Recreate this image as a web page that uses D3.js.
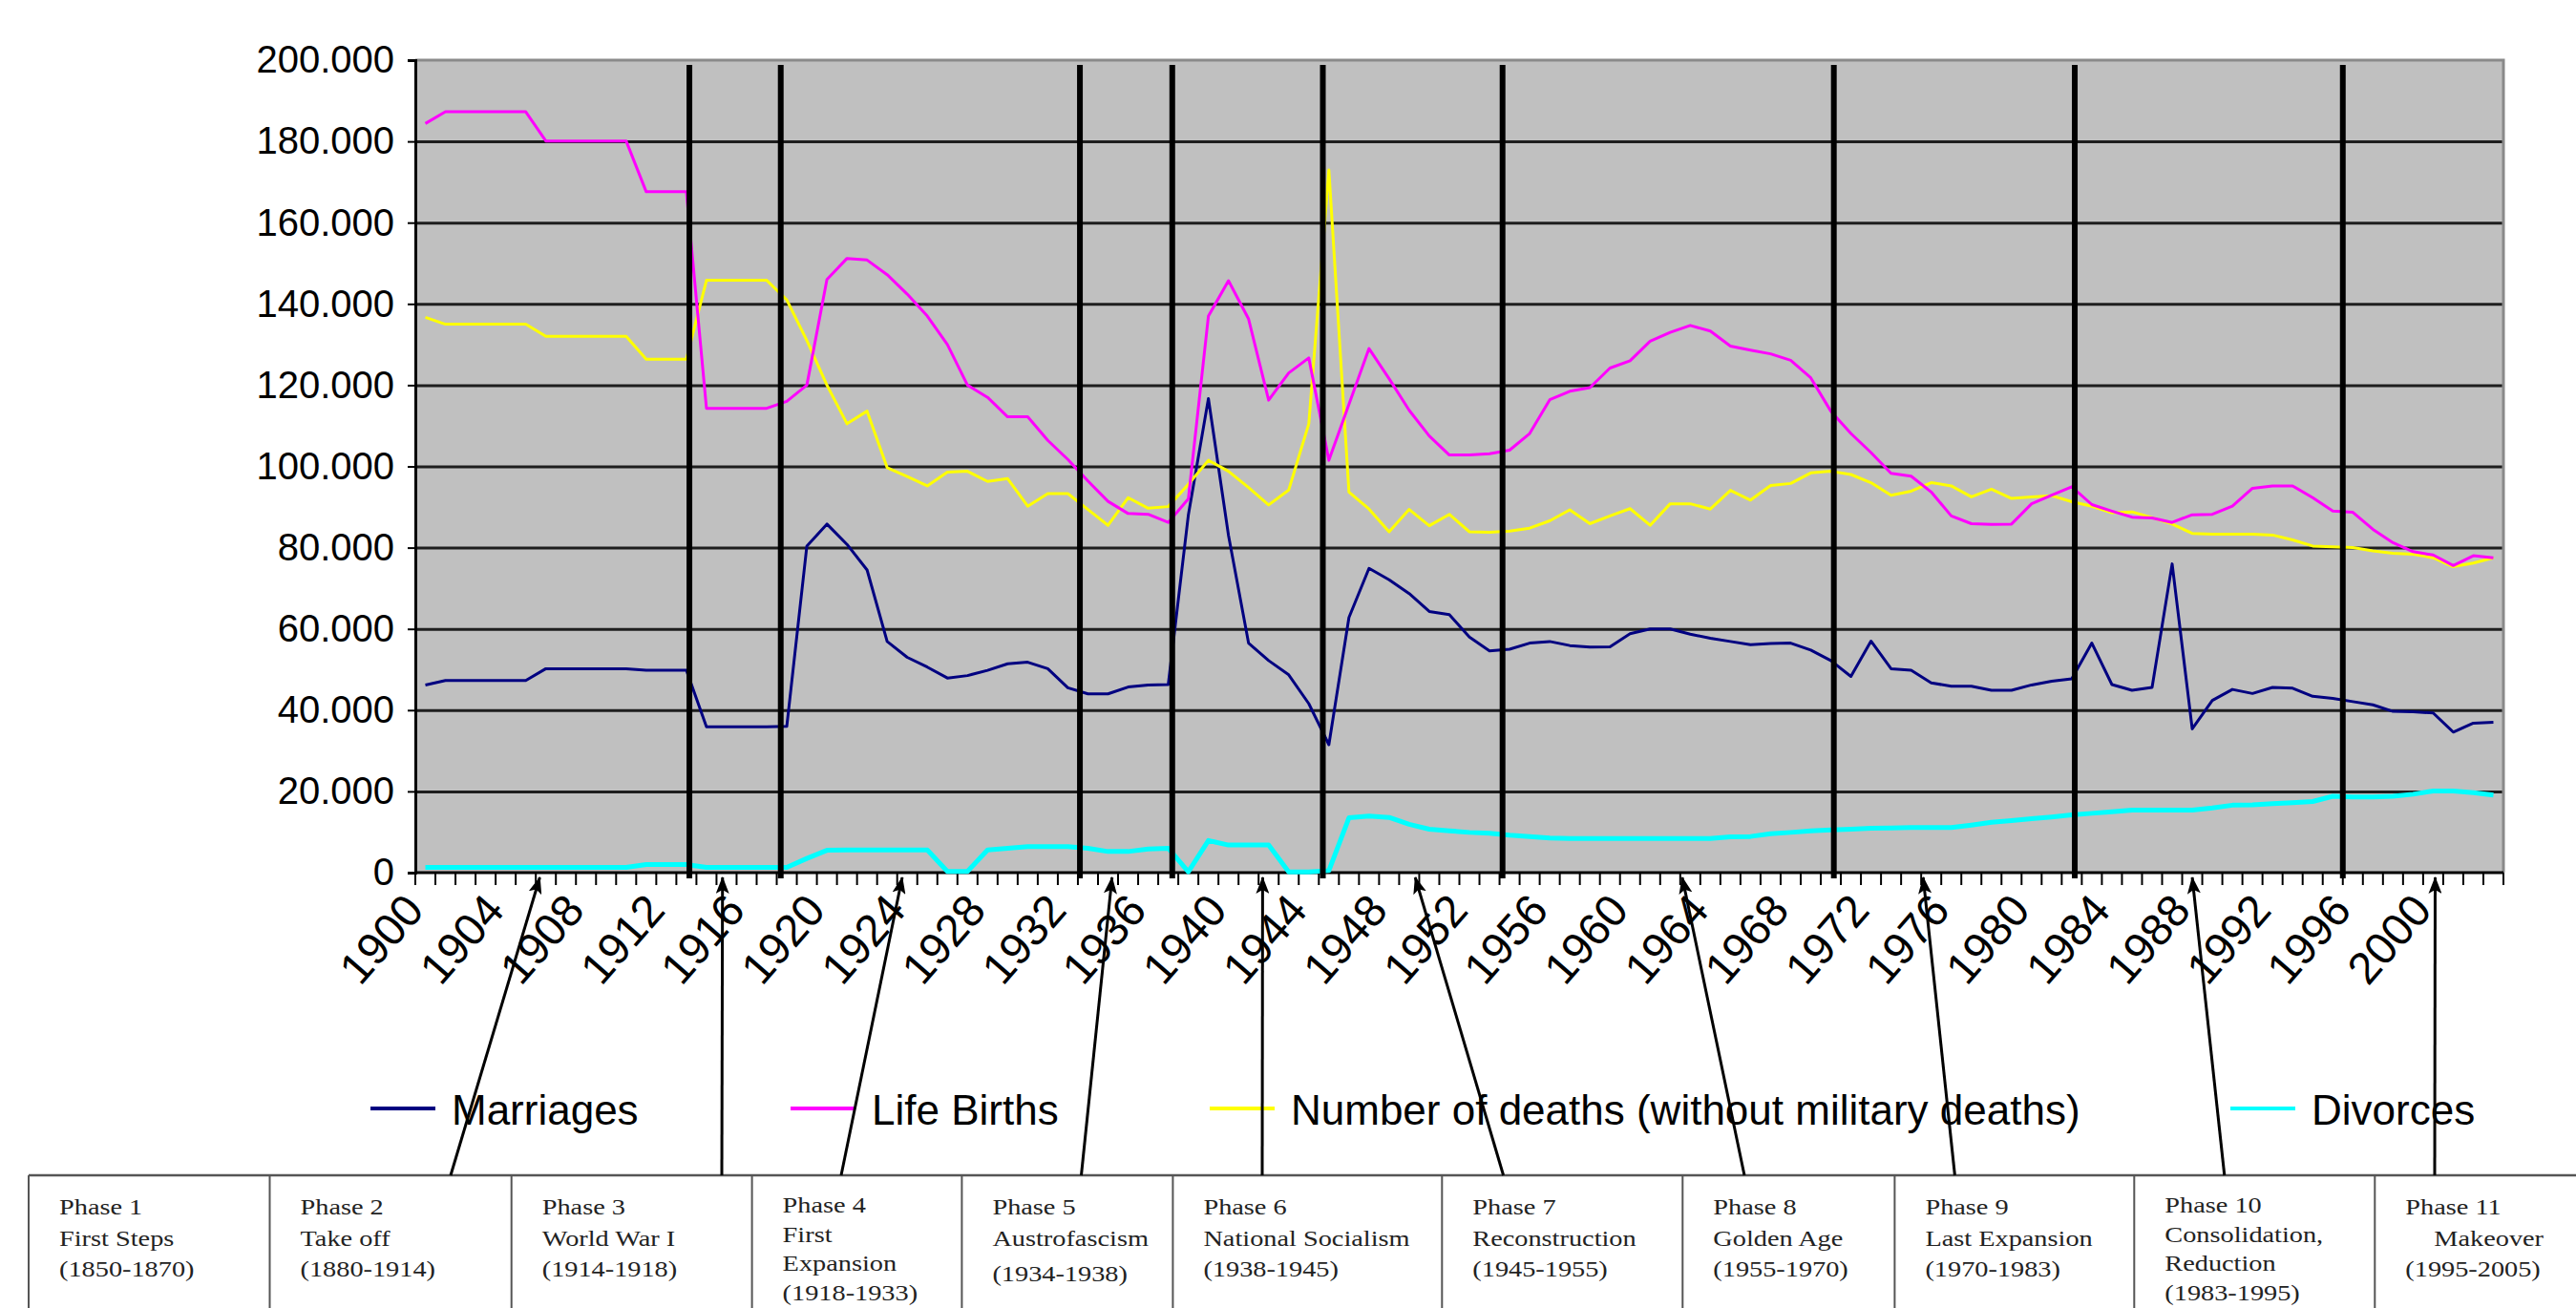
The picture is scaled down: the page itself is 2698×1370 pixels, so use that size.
<!DOCTYPE html>
<html><head><meta charset="utf-8">
<script src="https://cdn.jsdelivr.net/npm/d3@7"></script>
<style>body{margin:0;background:#fff}svg{display:block}</style>
</head><body><svg id="chart" width="2698" height="1370"></svg>
<script>
// ---------------- DATA (values in thousands) ----------------
const years = d3.range(1900, 2004);
const marriages = [
46.2,47.3,47.3,47.3,47.3,47.3,50.2,50.2,50.2,50.2,
50.2,49.8,49.8,49.8,35.9,35.9,35.9,35.9,36.0,80.4,
85.8,80.8,74.5,56.9,53.0,50.6,47.9,48.5,49.8,51.4,
51.8,50.2,45.5,44.0,44.0,45.7,46.2,46.3,88.0,116.7,
83.0,56.5,52.2,48.7,41.6,31.5,62.8,74.9,72.1,68.7,
64.3,63.5,58.0,54.6,55.0,56.5,56.9,55.9,55.5,55.6,
58.8,60.0,60.0,58.7,57.7,56.9,56.1,56.4,56.5,54.8,
52.2,48.3,57.0,50.2,49.8,46.7,45.9,45.9,44.9,44.9,
46.2,47.1,47.7,56.5,46.3,44.9,45.6,76.0,35.4,42.4,
45.1,44.1,45.6,45.4,43.4,42.9,42.1,41.3,39.7,39.6,
39.3,34.6,36.8,37.0];
const lifeBirths = [
184.4,187.3,187.3,187.3,187.3,187.3,180.1,180.1,180.1,180.1,
180.1,167.6,167.6,167.6,114.3,114.3,114.3,114.3,116.0,120.0,
146.0,151.2,150.8,147.2,142.4,137.0,130.0,120.0,117.0,112.2,
112.2,106.4,101.7,96.4,91.4,88.4,88.2,86.2,92.0,137.0,
145.7,136.3,116.3,123.0,126.7,101.5,115.3,129.0,121.6,113.8,
107.5,102.8,102.8,103.1,104.0,108.1,116.4,118.5,119.4,124.2,
126.0,130.8,133.0,134.7,133.3,129.6,128.6,127.7,126.1,121.8,
113.6,108.1,103.4,98.3,97.6,93.7,87.8,85.9,85.7,85.8,
90.8,92.9,95.0,90.6,89.0,87.5,87.3,86.2,88.1,88.2,
90.2,94.6,95.2,95.2,92.3,89.0,88.7,84.5,81.2,79.0,
78.2,75.6,78.0,77.5];
const deaths = [
136.7,135.0,135.0,135.0,135.0,135.0,132.0,132.0,132.0,132.0,
132.0,126.4,126.4,126.4,145.8,145.8,145.8,145.8,141.0,131.0,
120.0,110.5,113.6,99.7,97.5,95.2,98.6,98.8,96.3,97.0,
90.2,93.3,93.3,89.4,85.5,92.3,89.7,90.1,95.6,101.5,
98.8,94.8,90.5,94.2,110.5,173.0,93.7,89.5,83.9,89.4,
85.4,88.2,83.9,83.8,84.1,84.8,86.6,89.3,85.9,87.8,
89.6,85.5,90.8,90.8,89.5,94.1,91.7,95.3,95.8,98.4,
98.8,98.0,96.0,92.9,93.9,96.0,95.2,92.5,94.4,92.1,
92.5,92.8,91.3,90.2,88.6,88.8,87.4,85.8,83.5,83.3,
83.3,83.3,83.1,81.9,80.4,80.2,80.0,79.2,78.6,78.4,
77.5,75.3,76.2,77.5];
const divorces = [
1.3,1.3,1.3,1.3,1.3,1.3,1.3,1.3,1.3,1.3,
1.3,2.0,2.0,2.0,1.3,1.3,1.3,1.3,1.3,3.5,
5.5,5.6,5.6,5.6,5.6,5.6,0.3,0.3,5.6,6.0,
6.4,6.4,6.4,6.0,5.2,5.2,5.8,6.0,0.2,7.9,
6.8,6.8,6.8,0.2,0.2,0.5,13.5,13.9,13.6,11.9,
10.7,10.3,9.9,9.7,9.2,8.9,8.5,8.4,8.4,8.4,
8.4,8.4,8.4,8.4,8.4,8.8,8.9,9.6,9.9,10.3,
10.5,10.7,10.9,11.0,11.1,11.1,11.1,11.7,12.4,12.8,
13.3,13.7,14.2,14.6,15.0,15.4,15.4,15.4,15.4,15.9,
16.6,16.7,17.0,17.2,17.5,18.8,18.6,18.6,18.8,19.3,
20.1,20.1,19.7,19.1];
const seriesNames = ["Marriages", "Life Births", "Number of deaths (without military deaths)", "Divorces"];
const yTickValues = [0,20,40,60,80,100,120,140,160,180,200];
const yTickLabels = ["0","20.000","40.000","60.000","80.000","100.000","120.000","140.000","160.000","180.000","200.000"];
const xTickYears = d3.range(1900, 2004, 4);
const xTickLabels = xTickYears.map(String);
// phase boundaries drawn as vertical black lines (fractional year positions)
const phaseLineYears = [1913.15, 1917.7, 1932.6, 1937.2, 1944.7, 1953.65, 1970.15, 1982.15, 1995.5];
// years pointed at by the arrows from phases 2..11
const arrowYears = [1905.7, 1914.8, 1923.75, 1934.2, 1941.7, 1949.3, 1962.6, 1974.6, 1988.0, 2000.1];
const phaseTexts = [
  ["Phase 1","First Steps","(1850-1870)"],
  ["Phase 2","Take off","(1880-1914)"],
  ["Phase 3","World War I","(1914-1918)"],
  ["Phase 4","First","Expansion","(1918-1933)"],
  ["Phase 5","Austrofascism","(1934-1938)"],
  ["Phase 6","National Socialism","(1938-1945)"],
  ["Phase 7","Reconstruction","(1945-1955)"],
  ["Phase 8","Golden Age","(1955-1970)"],
  ["Phase 9","Last Expansion","(1970-1983)"],
  ["Phase 10","Consolidation,","Reduction","(1983-1995)"],
  ["Phase 11","Makeover","(1995-2005)"]
];

// ---------------- LAYOUT / STYLE ----------------
const M = {left:435, right:2622, top:63, bottom:914};
const colors = ["#000080", "#FF00FF", "#FFFF00", "#00FFFF"];
const widths = [3, 3, 3, 5];
const legendX = [388, 828, 1267, 2336];
const tableTop = 1231;
const tableCols = [30, 282.5, 535.7, 787.6, 1007.4, 1228.4, 1510.3, 1762.3, 1984.4, 2235.3, 2487.3];
const arrowFootX = [472, 756, 881, 1132.5, 1322, 1574.6, 1827, 2047.4, 2329.8, 2550];

const svg = d3.select("#chart");
svg.append("rect").attr("width",2698).attr("height",1370).attr("fill","#fff");

const x = d3.scaleBand().domain(years).range([M.left, M.right]).padding(0);
const xc = d => x(d) + x.bandwidth()/2;
const xLin = d3.scaleLinear().domain([1900, 2003]).range([xc(1900), xc(2003)]);
const y = d3.scaleLinear().domain([0, 200]).range([M.bottom, M.top]);

// plot background
svg.append("rect").attr("x",M.left).attr("y",M.top)
  .attr("width",M.right-M.left).attr("height",M.bottom-M.top).attr("fill","#C0C0C0");

// gridlines
const grid = svg.append("g").attr("transform",`translate(${M.left},0)`)
  .call(d3.axisLeft(y).tickValues(yTickValues.slice(1,-1)).tickSize(-(M.right-M.left)).tickFormat(""));
grid.select(".domain").remove();
grid.selectAll("line").attr("stroke","#1e1e1e").attr("stroke-width",3);

// plot border (top/right grey)
svg.append("path").attr("d",`M${M.left},${M.top}H${M.right}V${M.bottom}`)
  .attr("fill","none").attr("stroke","#8a8a8a").attr("stroke-width",3);

// y axis
const yAxis = svg.append("g").attr("transform",`translate(${M.left},0)`)
  .call(d3.axisLeft(y).tickValues(yTickValues).tickSize(8).tickPadding(14)
    .tickFormat((d,i)=>yTickLabels[i]));
yAxis.select(".domain").attr("stroke","#000").attr("stroke-width",3);
yAxis.selectAll(".tick line").attr("stroke","#000").attr("stroke-width",2);
yAxis.selectAll("text").attr("font-family","'Liberation Sans', Arial, sans-serif")
  .attr("font-size",40).attr("fill","#000");

// x axis: ticks at category boundaries
const xAxisG = svg.append("g");
xAxisG.append("line").attr("x1",M.left).attr("x2",M.right).attr("y1",M.bottom).attr("y2",M.bottom)
  .attr("stroke","#000").attr("stroke-width",3);
xAxisG.selectAll("line.tk").data(years.concat([null])).join("line").attr("class","tk")
  .attr("x1",d=> d===null ? M.right : x(d)).attr("x2",d=> d===null ? M.right : x(d))
  .attr("y1",M.bottom).attr("y2",M.bottom+13).attr("stroke","#000").attr("stroke-width",2);
const xl = svg.append("g").attr("transform",`translate(0,${M.bottom})`)
  .call(d3.axisBottom(x).tickValues(xTickYears).tickSize(0).tickFormat((d,i)=>xTickLabels[i]));
xl.select(".domain").remove();
xl.selectAll("text").attr("font-family","'Liberation Sans', Arial, sans-serif").attr("font-size",47)
  .attr("fill","#000").attr("text-anchor","end").attr("dy","0.35em")
  .attr("transform","translate(-12,30) rotate(-49)").attr("y",0).attr("x",0);

// data lines
const allSeries = [marriages, lifeBirths, deaths, divorces];
const line = d3.line().x((d,i)=>xc(years[i])).y(d=>y(d));
const order = [3,0,2,1];
order.forEach(k=>{
  svg.append("path").datum(allSeries[k]).attr("d",line)
    .attr("fill","none").attr("stroke",colors[k]).attr("stroke-width",widths[k])
    .attr("stroke-linejoin","round");
});

// phase boundary lines
svg.append("g").selectAll("line").data(phaseLineYears).join("line")
  .attr("x1",d=>xLin(d)).attr("x2",d=>xLin(d)).attr("y1",M.top+5).attr("y2",M.bottom+6)
  .attr("stroke","#000").attr("stroke-width",6);

// legend
const lg = svg.append("g");
seriesNames.forEach((n,i)=>{
  lg.append("line").attr("x1",legendX[i]).attr("x2",legendX[i]+68).attr("y1",1161).attr("y2",1161)
    .attr("stroke",colors[i]).attr("stroke-width",4);
  lg.append("text").attr("x",legendX[i]+85).attr("y",1178).text(n)
    .attr("font-family","'Liberation Sans', Arial, sans-serif").attr("font-size",44).attr("fill","#000");
});

// phase table
const tb = svg.append("g");
tb.append("line").attr("x1",tableCols[0]).attr("x2",2698).attr("y1",tableTop).attr("y2",tableTop)
  .attr("stroke","#555").attr("stroke-width",2.5);
tb.selectAll("line.col").data(tableCols).join("line").attr("class","col")
  .attr("x1",d=>d).attr("x2",d=>d).attr("y1",tableTop).attr("y2",1370)
  .attr("stroke","#555").attr("stroke-width",2);
phaseTexts.forEach((lines,i)=>{
  const step = lines.length > 3 ? 30.5 : 32.5;
  const start = lines.length > 3 ? 1270 : 1272;
  lines.forEach((t,j)=>{
    let tx = tableCols[i]+32;
    if (i===10 && j===1) tx += 30;
    let ty = start + j*step + (i===4 && j===2 ? 5 : 0);
    tb.append("text").attr("transform",`translate(${tx},${ty}) scale(1.18,1)`).text(t)
      .attr("font-family","'Liberation Serif', 'Times New Roman', serif").attr("font-size",24).attr("fill","#222");
  });
});

// arrows
const defs = svg.append("defs");
defs.append("marker").attr("id","ah").attr("viewBox","0 0 18 14").attr("refX",17).attr("refY",7)
  .attr("markerWidth",18).attr("markerHeight",14).attr("markerUnits","userSpaceOnUse").attr("orient","auto")
  .append("path").attr("d","M0,0L18,7L0,14L4,7z").attr("fill","#000");
svg.append("g").selectAll("line").data(arrowYears).join("line")
  .attr("x1",(d,i)=>arrowFootX[i]).attr("y1",tableTop)
  .attr("x2",d=>xLin(d)).attr("y2",919)
  .attr("stroke","#000").attr("stroke-width",3).attr("marker-end","url(#ah)");
</script>
</body></html>
